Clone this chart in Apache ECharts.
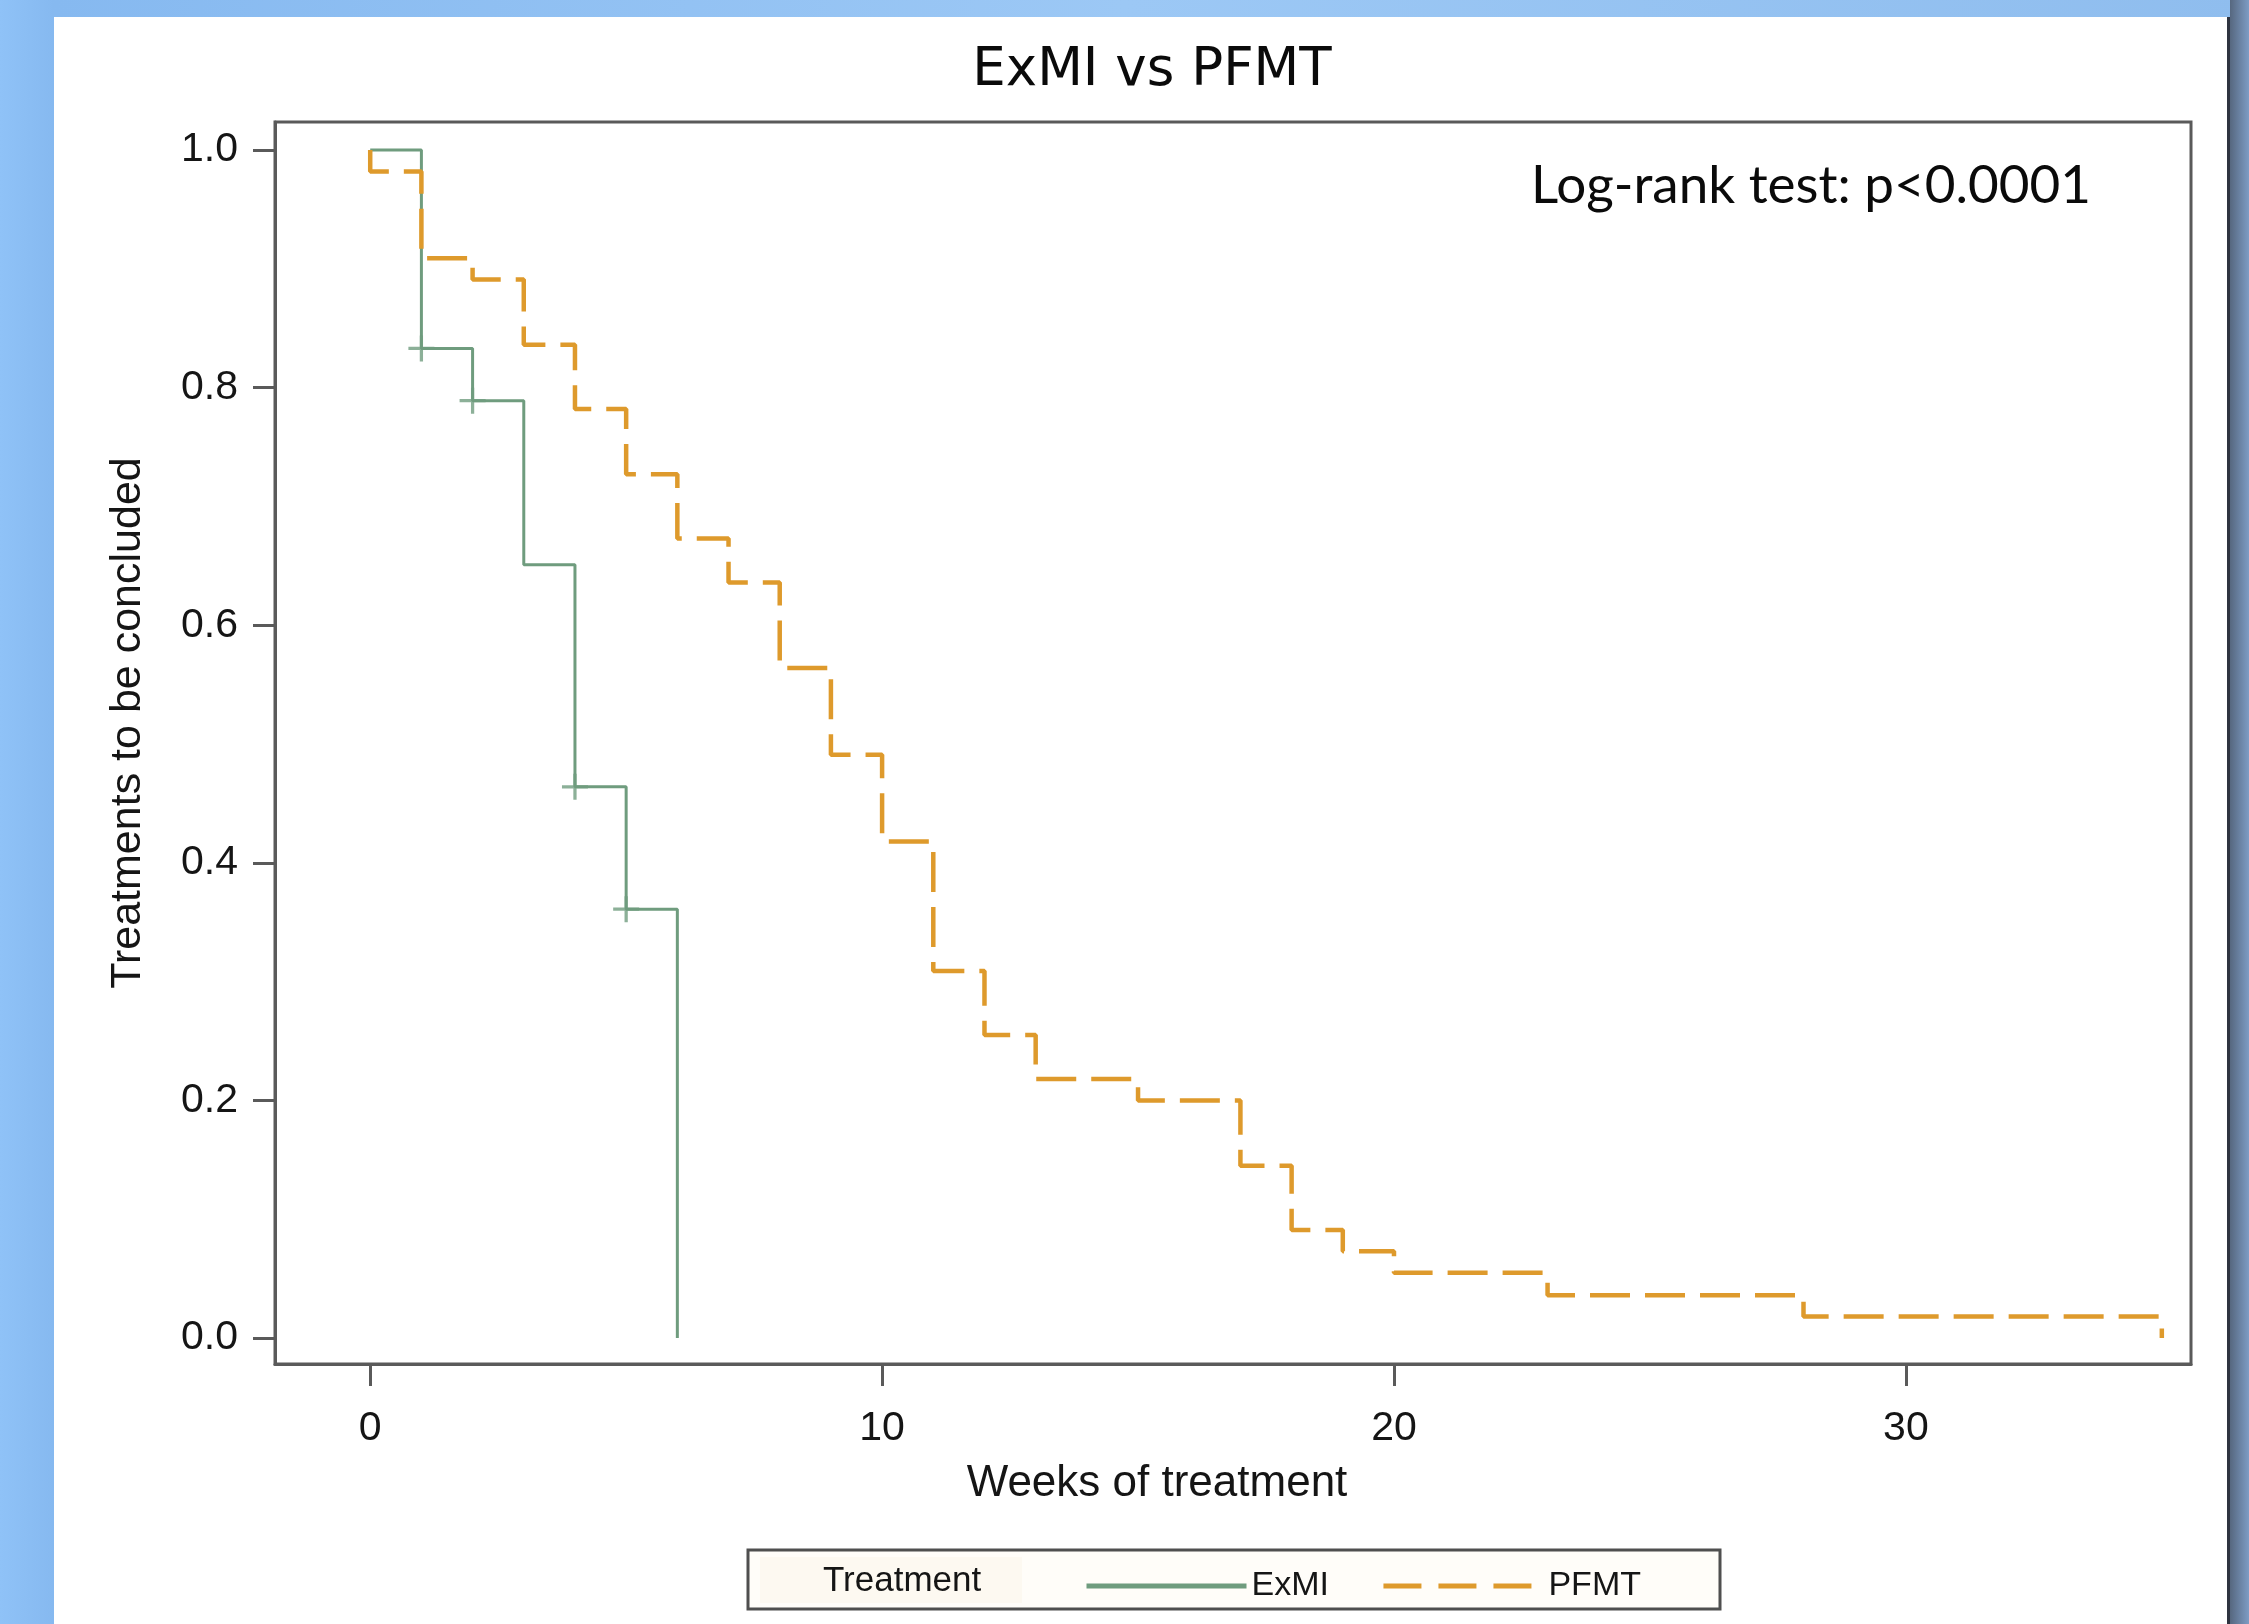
<!DOCTYPE html>
<html>
<head>
<meta charset="utf-8">
<script src="https://cdn.jsdelivr.net/npm/echarts@6/dist/echarts.min.js"></script>
<style>
  html, body { margin: 0; padding: 0; width: 2249px; height: 1624px; overflow: hidden;
    background: linear-gradient(90deg, #8fc2f7 0%, #86b9f0 2.4%, #9cc8f5 50%, #8fbdee 100%); }
  #panel { position: absolute; left: 54px; top: 17px; width: 2173px; height: 1620px; background: #ffffff;
    border-right: 3px solid #2e3440; }
  #rstrip { position: absolute; left: 2230px; top: 0; width: 19px; height: 1624px;
    background: linear-gradient(90deg, #56677f 0%, #7d9cc4 100%); }
  #chart { position: absolute; left: 0; top: 0; width: 2249px; height: 1624px; }
</style>
</head>
<body>
<div id="rstrip"></div>
<div id="panel"></div>
<div id="chart"></div>
<script>
// ---- data ----
const titleText = 'ExMI vs PFMT';
const xAxisTitle = 'Weeks of treatment';
const yAxisTitle = 'Treatments to be concluded';
const annotation = 'Log-rank test: p<0.0001';
const legendTitle = 'Treatment';
const seriesNames = ['ExMI', 'PFMT'];
const xTicks = [0, 10, 20, 30];
const yTicks = [0.0, 0.2, 0.4, 0.6, 0.8, 1.0];

// ExMI Kaplan-Meier steps (week, survival)
const exmiTimes = [0, 1, 2, 3, 4, 5, 6];
const exmiSurv  = [1.0, 0.833, 0.789, 0.651, 0.464, 0.361, 0.0];
// ExMI censored observations
const exmiCensTimes = [1, 2, 4, 5];
const exmiCensSurv  = [0.833, 0.789, 0.464, 0.361];

// PFMT Kaplan-Meier steps (week, survival)
const pfmtTimes = [0, 0, 1, 2, 3, 4, 5, 6, 7, 8, 9, 10, 11, 12, 13, 15, 17, 18, 19, 20, 23, 28, 35];
const pfmtSurv  = [1.0, 0.982, 0.909, 0.891, 0.836, 0.782, 0.727, 0.673, 0.636, 0.564, 0.491, 0.418,
                   0.309, 0.255, 0.218, 0.200, 0.145, 0.091, 0.073, 0.055, 0.036, 0.018, 0.0];

const zip = (a, b) => a.map((v, i) => [v, b[i]]);

const GREEN = '#6f9c7e';
const ORANGE = '#de9a2c';
const AXIS = '#5a5a5a';
const TXT = '#151515';
const SANS = "'Liberation Sans', Arial, sans-serif";

const chart = echarts.init(document.getElementById('chart'), null, { renderer: 'canvas' });

const plusPath = 'path://M-1.5,-12 L1.5,-12 L1.5,12 L-1.5,12 Z M-12,-1.5 L12,-1.5 L12,1.5 L-12,1.5 Z';

chart.setOption({
  backgroundColor: 'transparent',
  animation: false,
  grid: { left: 275, top: 122, width: 1916, height: 1242, show: true,
          borderColor: AXIS, borderWidth: 3, backgroundColor: 'transparent' },
  xAxis: {
    type: 'value', min: -1.86, max: 35.57,
    axisLine: { show: true, onZero: false, lineStyle: { color: AXIS, width: 3 } },
    axisTick: { show: true, length: 22, customValues: xTicks, lineStyle: { color: AXIS, width: 3 } },
    axisLabel: { customValues: xTicks, margin: 44, fontSize: 41, fontFamily: SANS, color: TXT,
                 lineHeight: 41 },
    splitLine: { show: false },
    name: xAxisTitle, nameLocation: 'middle', nameGap: 98,
    nameTextStyle: { fontSize: 44, fontFamily: SANS, color: TXT, lineHeight: 44, padding: [0, 152, 0, 0] }
  },
  yAxis: {
    type: 'value', min: -0.0219, max: 1.0236,
    axisLine: { show: true, onZero: false, lineStyle: { color: AXIS, width: 3 } },
    axisTick: { show: true, length: 22, customValues: yTicks, lineStyle: { color: AXIS, width: 3 } },
    axisLabel: { customValues: yTicks, margin: 37, fontSize: 41, fontFamily: SANS, color: TXT,
                 formatter: v => v.toFixed(1) },
    splitLine: { show: false },
    name: yAxisTitle, nameLocation: 'middle', nameGap: 125,
    nameTextStyle: { fontSize: 43, fontFamily: SANS, color: TXT, lineHeight: 43, padding: [0, 0, 0, 40] }
  },
  legend: {
    data: [
      { name: seriesNames[0], lineStyle: { width: 5, color: GREEN, type: 'solid' } },
      { name: seriesNames[1], lineStyle: { width: 5, color: ORANGE, type: [38, 17] } }
    ],
    left: 1079, top: 1564, orient: 'horizontal',
    itemWidth: 160, itemHeight: 14, itemGap: 52,
    itemStyle: { opacity: 0 },
    textStyle: { fontSize: 34, fontFamily: SANS, color: TXT, lineHeight: 34 }
  },
  graphic: [
    { type: 'rect', z: 0, shape: { x: 748, y: 1550, width: 972, height: 59 },
      style: { fill: '#fffdf9', stroke: '#4f4f4f', lineWidth: 3 } },
    { type: 'rect', z: 1, shape: { x: 760, y: 1557, width: 262, height: 46 },
      style: { fill: '#fdf9f1' } },
    { type: 'text', z: 5, x: 823, y: 1581,
      style: { text: legendTitle, font: "35px 'Liberation Sans', Arial, sans-serif", fill: TXT,
               textAlign: 'left', textVerticalAlign: 'middle' } },
    { type: 'text', z: 5, x: 1152, y: 71,
      style: { text: titleText, font: "53px 'DejaVu Sans', Verdana, sans-serif", fill: '#0a0a0a',
               textAlign: 'center', textVerticalAlign: 'middle' } },
    { type: 'text', z: 5, x: 1531, y: 186,
      style: { text: annotation, font: "53px Lato, 'Open Sans', sans-serif", fill: '#0a0a0a',
               textAlign: 'left', textVerticalAlign: 'middle' } }
  ],
  series: [
    { name: seriesNames[0], type: 'line', step: 'end', data: zip(exmiTimes, exmiSurv),
      symbol: 'none', color: GREEN, lineStyle: { color: GREEN, width: 3 }, z: 2 },
    { name: 'ExMI censored', type: 'scatter', data: zip(exmiCensTimes, exmiCensSurv),
      symbol: plusPath, symbolSize: 26, itemStyle: { color: GREEN }, z: 3 },
    { name: seriesNames[1], type: 'line', step: 'end', data: zip(pfmtTimes, pfmtSurv),
      symbol: 'none', color: ORANGE, lineStyle: { color: ORANGE, width: 4.5, type: [40, 15] }, z: 4 }
  ]
});
</script>
</body>
</html>
